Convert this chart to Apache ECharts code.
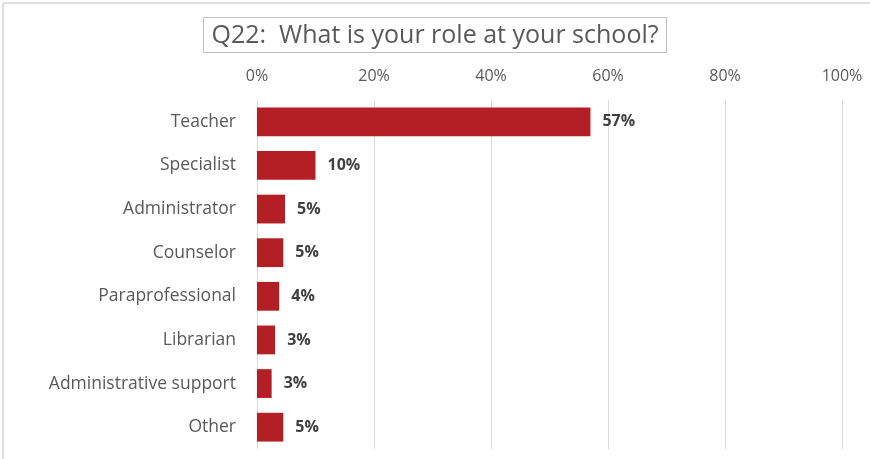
<!DOCTYPE html>
<html><head><meta charset="utf-8">
<script src="https://cdn.jsdelivr.net/npm/echarts@6/dist/echarts.min.js"></script>
<style>html,body{margin:0;padding:0;background:#fff}#c{width:870px;height:459px}</style>
</head><body><div id="c"></div>
<script>
const categories = ["Teacher","Specialist","Administrator","Counselor","Paraprofessional","Librarian","Administrative support","Other"];
const values = [57, 10, 4.8, 4.5, 3.8, 3.1, 2.5, 4.5];
const valueLabels = ["57%","10%","5%","5%","4%","3%","3%","5%"];
const titleText = "Q22:  What is your role at your school?";

const chart = echarts.init(document.getElementById('c'), null, {renderer:'canvas'});
chart.setOption({
  animation:false,
  graphic:[{type:'rect', shape:{x:3,y:3,width:880,height:470}, style:{fill:'none', stroke:'#bfbfbf', lineWidth:1}, silent:true}],
  title:{text:titleText, left:'center', top:17, padding:[5,8,4,8], borderColor:'#bfbfbf', borderWidth:1,
    textStyle:{fontFamily:'Open Sans', fontSize:25, fontWeight:'normal', color:'#595959', lineHeight:27}},
  grid:{left:257, right:28, top:100, bottom:10, containLabel:false},
  xAxis:{type:'value', position:'top', min:0, max:100, interval:20,
    axisLabel:{formatter:'{value}%', color:'#595959', fontFamily:'Open Sans', fontSize:16, margin:16},
    axisLine:{show:false}, axisTick:{show:false},
    splitLine:{lineStyle:{color:'#d9d9d9', width:1}}},
  yAxis:{type:'category', data:categories, inverse:true,
    axisLine:{show:false}, axisTick:{show:false},
    axisLabel:{color:'#595959', fontFamily:'Open Sans', fontSize:17.5, margin:21}},
  series:[{type:'bar', data:values, barWidth:'66%', itemStyle:{color:'#b31f24'},
    label:{show:true, position:'right', distance:12, color:'#404040', fontWeight:'bold', fontFamily:'Open Sans', fontSize:16,
      formatter:p=>valueLabels[p.dataIndex]}}]
});
</script></body></html>
